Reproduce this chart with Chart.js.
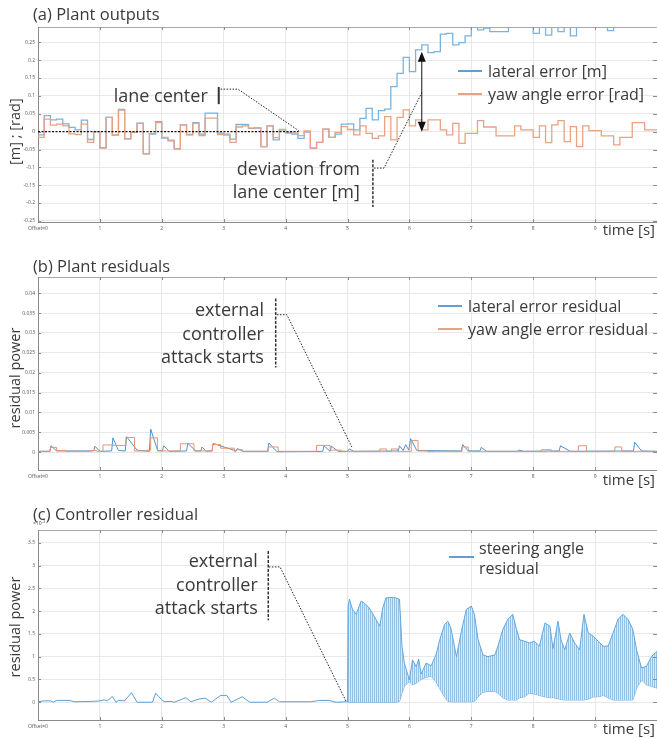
<!DOCTYPE html>
<html>
<head>
<meta charset="utf-8">
<script src="https://cdn.jsdelivr.net/npm/chart.js@4.4.1/dist/chart.umd.min.js"></script>
<style>
  html, body { margin: 0; padding: 0; background: #fff; }
  #wrap { position: relative; width: 657px; height: 738px; overflow: hidden; }
  canvas { position: absolute; left: 0; }
</style>
</head>
<body>
<div id="wrap">
  <canvas id="chartA" width="657" height="245" style="top:0"></canvas>
  <canvas id="chartB" width="657" height="250" style="top:245px"></canvas>
  <canvas id="chartC" width="657" height="243" style="top:495px"></canvas>
</div>
<script>
// ---- data ----
const dt = 0.1; // sample period of plant outputs [s]
const timeTicks = [0, 1, 2, 3, 4, 5, 6, 7, 8, 9];

const lateralError = [
  -0.009, 0.045, 0.033, 0.035, 0.022, 0.012, 0.005, 0.032, -0.022, 0.0,
  -0.045, 0.04, -0.01, 0.062, -0.02, -0.002, 0.024, -0.062, -0.007, 0.028,
  -0.018, -0.026, -0.048, 0.019, -0.008, 0.025, -0.007, 0.052, 0.052, -0.004,
  -0.007, -0.021, 0.02, 0.02, 0.009, 0.01, -0.042, 0.016, -0.023, 0.005,
  -0.002, -0.007, -0.019, -0.001, -0.046, -0.03, 0.007, -0.016, -0.007, 0.021,
  0.022, 0.005, 0.037, 0.065, 0.033, 0.059, 0.063, 0.126, 0.163, 0.208,
  0.168, 0.229, 0.243, 0.221, 0.224, 0.273, 0.275, 0.243, 0.249, 0.268,
  0.30, 0.285, 0.29, 0.28, 0.28, 0.28, 0.30, 0.30, 0.30, 0.30,
  0.275, 0.30, 0.27, 0.30, 0.28, 0.30, 0.268, 0.30, 0.30, 0.30,
  0.30, 0.30, 0.283, 0.30, 0.30, 0.30, 0.30, 0.30, 0.30, 0.30
];
const yawError = [
  -0.016, 0.035, 0.018, 0.021, 0.016, -0.006, -0.008, 0.021, -0.03, 0.0,
  -0.046, 0.04, -0.01, 0.06, -0.02, -0.002, 0.023, -0.062, -0.005, 0.025,
  -0.016, -0.024, -0.048, 0.019, -0.009, 0.023, -0.011, 0.038, 0.038, -0.008,
  -0.01, -0.03, 0.013, 0.016, 0.01, 0.011, -0.042, 0.016, -0.017, 0.006,
  -0.004, -0.004, -0.011, 0.002, -0.046, -0.03, 0.007, -0.016, -0.002, 0.014,
  0.006, -0.009, 0.016, -0.005, -0.019, -0.012, 0.042, -0.023, 0.04, 0.061,
  0.016, 0.033, 0.005, 0.033, 0.033, 0.005, -0.009, 0.023, -0.033, -0.005,
  -0.005, 0.031, 0.013, 0.013, -0.012, -0.012, -0.012, 0.016, 0.005, 0.005,
  -0.016, 0.016, -0.031, 0.019, 0.031, -0.028, 0.014, -0.042, 0.016, 0.003,
  0.003, -0.012, -0.012, -0.037, -0.016, -0.016, 0.025, 0.025, 0.005, 0.005
];
const yTicksA = [-0.25, -0.2, -0.15, -0.1, -0.05, 0, 0.05, 0.1, 0.15, 0.2, 0.25];

const latResT = [0, 0.19, 0.21, 0.3, 0.9, 0.92, 1.0, 1.19, 1.21, 1.3, 1.41, 1.43, 1.6, 1.8, 1.82, 1.93, 2.01, 2.03, 2.12, 2.4,
  2.42, 2.55, 2.63, 2.65, 2.72, 2.81, 2.83, 3.2, 3.22, 3.32, 3.71, 3.73, 3.86, 4.6, 4.62, 4.72, 4.74, 4.85, 5.0, 5.03,
  5.1, 5.82, 5.84, 5.9, 5.94, 5.99, 6.02, 6.12, 6.84, 6.86, 6.95, 7.14, 7.16, 7.25, 7.74, 7.77, 7.85, 8.42, 8.44, 8.6,
  9.62, 9.64, 9.75, 10];
const latResV = [0.0002, 0.0002, 0.0016, 0.0003, 0.0003, 0.0015, 0.0002, 0.0003, 0.0036, 0.0004, 0.0003, 0.0039, 0.0005, 0.0002, 0.0058, 0.0005, 0.0003, 0.0016, 0.0002, 0.0003,
  0.0022, 0.0003, 0.0003, 0.0013, 0.0002, 0.0003, 0.0022, 0.0003, 0.0009, 0.0002, 0.0002, 0.0023, 0.0001, 0.0002, 0.0016, 0.0002, 0.0015, 0.0002, 0.0002, 0.0008,
  0.0002, 0.0003, 0.0016, 0.0004, 0.0019, 0.0005, 0.0034, 0.0004, 0.0003, 0.0019, 0.0003, 0.0003, 0.0012, 0.0002, 0.0002, 0.0005, 0.0002, 0.0003, 0.0016, 0.0002,
  0.0003, 0.0025, 0.0003, 0.0002];
const yawResT = [0, 0.2, 0.3, 0.45, 0.85, 0.95, 1.05, 1.22, 1.42, 1.56, 1.75, 1.82, 1.93, 2.3, 2.52, 2.82, 2.95, 3.17, 3.2, 3.3,
  3.72, 3.88, 4.5, 4.72, 4.9, 5.52, 5.63, 5.71, 5.81, 6.03, 6.14, 6.3, 6.4, 6.85, 6.95, 8.13, 8.29, 8.73, 8.86, 9.32, 9.43, 10];
const yawResV = [0.0002, 0.0012, 0.0004, 0.0002, 0.0004, 0.0002, 0.0018, 0.0017, 0.0037, 0.0003, 0.0005, 0.0036, 0.0003, 0.0021, 0.0003, 0.0019, 0.001, 0.0002, 0.0006, 0.0002,
  0.0013, 0.0002, 0.0017, 0.0005, 0.0002, 0.0008, 0.0002, 0.0008, 0.0002, 0.0029, 0.0003, 0.0001, 0.0002, 0.0013, 0.0002, 0.0006, 0.0002, 0.0016, 0.0002, 0.0013, 0.0002, 0.0002];
const yTicksB = [0, 0.005, 0.01, 0.015, 0.02, 0.025, 0.03, 0.035, 0.04];

// steering angle residual before the attack
const steerT = [0, 0.1, 0.2, 0.25, 0.3, 0.5, 0.6, 0.9, 1.0, 1.07, 1.12, 1.2, 1.26, 1.3, 1.4, 1.51, 1.6, 1.85, 1.9, 2.0,
  2.05, 2.15, 2.2, 2.39, 2.47, 2.6, 2.7, 2.8, 2.95, 3.05, 3.12, 3.3, 3.42, 3.7, 3.82, 3.9, 4.4, 4.55, 4.7, 4.8, 5.0];
const steerV = [0.01, 0.03, 0.03, 0.0, 0.04, 0.04, 0.01, 0.02, 0.03, 0.05, 0.03, 0.125, 0.0, 0.04, 0.03, 0.21, 0.0, 0.0, 0.2, 0.05,
  0.01, 0.02, 0.0, 0.1, 0.01, 0.07, 0.09, 0.0, 0.15, 0.15, 0.0, 0.12, 0.0, 0.0, 0.09, 0.01, 0.01, 0.04, 0.04, 0.0, 0.01];
// oscillation envelope after the attack (x1e-3)
const envT = [5.0, 5.01, 5.03, 5.08, 5.14, 5.22, 5.27, 5.35, 5.43, 5.52, 5.57, 5.62, 5.7, 5.78, 5.84, 5.88, 5.92, 6.0, 6.05, 6.11,
  6.15, 6.19, 6.27, 6.35, 6.43, 6.49, 6.57, 6.62, 6.67, 6.76, 6.84, 6.92, 7.0, 7.05, 7.11, 7.19, 7.27, 7.38, 7.43, 7.51,
  7.59, 7.67, 7.73, 7.78, 7.86, 7.94, 8.02, 8.1, 8.19, 8.27, 8.32, 8.4, 8.45, 8.51, 8.59, 8.67, 8.75, 8.82, 8.89, 8.97,
  9.05, 9.13, 9.21, 9.29, 9.37, 9.45, 9.53, 9.61, 9.67, 9.75, 9.83, 9.91, 10.0];
const envHigh = [0.01, 2.1, 2.26, 2.04, 1.93, 2.22, 2.18, 2.07, 1.89, 1.67, 2.07, 2.29, 2.3, 2.29, 2.26, 1.23, 0.85, 0.49, 0.93, 0.78,
  0.95, 0.62, 0.86, 0.8, 1.04, 1.37, 1.71, 1.78, 1.63, 1.0, 1.56, 2.04, 2.11, 1.93, 1.37, 1.04, 1.0, 1.04, 1.23, 1.6,
  1.82, 1.93, 1.6, 1.37, 1.34, 1.3, 1.34, 1.23, 1.74, 1.67, 1.18, 1.78, 1.37, 1.15, 1.52, 1.3, 1.15, 1.93, 1.52, 1.45,
  1.34, 1.23, 1.23, 1.52, 1.82, 1.93, 1.82, 1.6, 1.15, 0.75, 0.79, 1.0, 1.12];
const envLow = [0.01, 0, 0, 0, 0, 0, 0, 0, 0, 0, 0, 0, 0, 0, 0.02, 0.2, 0.35, 0.46, 0.38, 0.42,
  0.46, 0.5, 0.55, 0.57, 0.45, 0.3, 0.12, 0.02, 0.01, 0.01, 0.01, 0.01, 0.01, 0.02, 0.12, 0.22, 0.24, 0.24, 0.2, 0.1,
  0.05, 0.05, 0.05, 0.1, 0.12, 0.2, 0.18, 0.15, 0.12, 0.1, 0.1, 0.08, 0.06, 0.05, 0.05, 0.05, 0.05, 0.05, 0.07, 0.12,
  0.12, 0.15, 0.1, 0.05, 0.05, 0.05, 0.05, 0.05, 0.31, 0.49, 0.38, 0.35, 0.31];
const yTicksC = [0, 0.5, 1, 1.5, 2, 2.5, 3, 3.5];

// ---- helpers ----
const INK = '#3a3a3a';
const FONT = '"Open Sans", "Noto Sans", sans-serif';
const GRID = '#e8e8e8';
const AXIS = '#8a8a8a';
const NOTE = 18;   // annotation text size
const LEG = 16;    // legend text size

const zip = (ts, vs) => ts.map((t, i) => ({ x: t, y: vs[i] }));
const sampled = vs => vs.map((v, i) => ({ x: +(i * dt).toFixed(2), y: v })).concat([{ x: vs.length * dt, y: vs[vs.length - 1] }]);
const fmt = v => String(+v.toFixed(4));

function stripes() {
  const c = document.createElement('canvas');
  c.width = 2; c.height = 1;
  const g = c.getContext('2d');
  g.fillStyle = '#d8eaf7'; g.fillRect(0, 0, 2, 1);
  g.fillStyle = '#93c1e6'; g.fillRect(0, 0, 1, 1);
  return g.createPattern(c, 'repeat');
}

function text(ctx, s, x, y, size, align) {
  ctx.save();
  ctx.font = size + 'px ' + FONT;
  ctx.fillStyle = INK;
  ctx.textAlign = align || 'left';
  ctx.textBaseline = 'middle';
  ctx.fillText(s, x, y);
  ctx.restore();
}

function vtext(ctx, s, x, y, size) {
  ctx.save();
  ctx.translate(x, y);
  ctx.rotate(-Math.PI / 2);
  text(ctx, s, 0, 0, size, 'center');
  ctx.restore();
}

function path(ctx, pts, dash, width, color) {
  ctx.save();
  ctx.strokeStyle = color || '#222';
  ctx.lineWidth = width || 1;
  ctx.setLineDash(dash || []);
  ctx.beginPath();
  pts.forEach((p, i) => i ? ctx.lineTo(p[0], p[1]) : ctx.moveTo(p[0], p[1]));
  ctx.stroke();
  ctx.restore();
}

function arrow(ctx, x, y1, y2) {
  path(ctx, [[x, y1 + 6], [x, y2 - 6]], null, 1, '#111');
  ctx.save();
  ctx.fillStyle = '#111';
  ctx.beginPath();
  ctx.moveTo(x, y1); ctx.lineTo(x - 4, y1 + 10); ctx.lineTo(x + 4, y1 + 10); ctx.closePath();
  ctx.moveTo(x, y2); ctx.lineTo(x - 4, y2 - 10); ctx.lineTo(x + 4, y2 - 10); ctx.closePath();
  ctx.fill();
  ctx.restore();
}

function legend(ctx, x, y, color, label) {
  path(ctx, [[x, y], [x + 24, y]], null, 1.6, color);
  text(ctx, label, x + 30, y + 1, LEG);
}

// frame: top border, inner tick marks on all sides
function frame(chart) {
  const { ctx, chartArea: a, scales } = chart;
  path(ctx, [[a.left, a.top + 0.5], [a.right, a.top + 0.5]], null, 1, '#a8a8a8');
  scales.y.ticks.forEach(t => {
    const py = Math.round(scales.y.getPixelForValue(t.value)) + 0.5;
    path(ctx, [[a.left, py], [a.left + 3, py]], null, 1, AXIS);
    path(ctx, [[a.right - 4, py], [a.right, py]], null, 1, AXIS);
  });
  scales.x.ticks.forEach(t => {
    const px = Math.round(scales.x.getPixelForValue(t.value)) + 0.5;
    path(ctx, [[px, a.top], [px, a.top + 3]], null, 1, AXIS);
    path(ctx, [[px, a.bottom - 3], [px, a.bottom]], null, 1, AXIS);
  });
}

function scales(yMin, yMax, yTicks, axisH) {
  const tickFont = { size: 5, family: FONT };
  return {
    x: {
      type: 'linear', min: 0, max: 10,
      afterBuildTicks: s => { s.ticks = timeTicks.map(v => ({ value: v })); },
      afterFit: s => { s.height = axisH; },
      ticks: { font: tickFont, color: '#555', padding: 4, maxRotation: 0, autoSkip: false,
        callback: v => v === 0 ? 'Offset=0' : String(v) },
      grid: { color: GRID, drawTicks: false },
      border: { color: AXIS }
    },
    y: {
      type: 'linear', min: yMin, max: yMax,
      afterBuildTicks: s => { s.ticks = yTicks.map(v => ({ value: v })); },
      afterFit: s => { s.width = 38; },
      ticks: { font: tickFont, color: '#555', padding: 3, callback: v => fmt(v) },
      grid: { color: GRID, drawTicks: false },
      border: { color: AXIS }
    }
  };
}

function makeChart(id, datasets, sc, padTop, deco) {
  return new Chart(document.getElementById(id), {
    type: 'line',
    data: { datasets },
    options: {
      responsive: false, animation: false, devicePixelRatio: 1, events: [],
      layout: { padding: { top: padTop, left: 0, right: 0, bottom: 0 } },
      elements: { point: { radius: 0 }, line: { tension: 0 } },
      plugins: { legend: { display: false }, tooltip: { enabled: false } },
      scales: sc
    },
    plugins: [{ id: 'deco' + id, afterDatasetsDraw: chart => { frame(chart); deco(chart); } }]
  });
}

// ---- (a) Plant outputs ----
makeChart('chartA', [
  { data: sampled(yawError), stepped: true, borderColor: '#eaa283', borderWidth: 1.3, fill: false },
  { data: sampled(lateralError), stepped: true, borderColor: '#7ab3de', borderWidth: 1.3, fill: false }
], scales(-0.253, 0.293, yTicksA, 23), 27, chart => {
  const { ctx } = chart;
  const X = v => chart.scales.x.getPixelForValue(v);
  const Y = v => chart.scales.y.getPixelForValue(v);
  text(ctx, '(a) Plant outputs', 33, 15, 16.5);
  vtext(ctx, '[m] ; [rad]', 16, Y(0), 14.5);
  text(ctx, 'time [s]', 655, 231, 15, 'right');
  legend(ctx, 458, 71, '#3a86c8', 'lateral error [m]');
  legend(ctx, 458, 94, '#dc8c66', 'yaw angle error [rad]');
  // lane center
  path(ctx, [[X(0), Y(0)], [X(4.21), Y(0)]], [2, 1.5], 1.2, '#111');
  text(ctx, 'lane center', X(2.92) - 11, Y(0.098), NOTE, 'right');
  path(ctx, [[X(2.92), Y(0.125)], [X(2.92), Y(0.077)]], null, 2, '#333');
  path(ctx, [[X(2.95), Y(0.119)], [X(3.23), Y(0.119)], [X(4.21), Y(0.003)]], [1.5, 1.5], 1, '#222');
  // deviation from lane center
  text(ctx, 'deviation from', X(5.2), Y(-0.107), NOTE, 'right');
  text(ctx, 'lane center [m]', X(5.2), Y(-0.172), NOTE, 'right');
  path(ctx, [[X(5.41), Y(-0.079)], [X(5.41), Y(-0.211)]], [3, 1.5], 1.5, '#333');
  path(ctx, [[X(5.43), Y(-0.102)], [X(5.59), Y(-0.102)], [X(6.2), Y(0.109)]], [1.5, 1.5], 1, '#222');
  arrow(ctx, X(6.2), Y(0.224), Y(0.0));
});

// ---- (b) Plant residuals ----
makeChart('chartB', [
  { data: zip(yawResT, yawResV), stepped: true, borderColor: '#e6946e', borderWidth: 1, fill: false },
  { data: zip(latResT, latResV), borderColor: '#4a93d0', borderWidth: 1, fill: false }
], scales(-0.0045, 0.0441, yTicksB, 25), 32, chart => {
  const { ctx } = chart;
  const X = v => chart.scales.x.getPixelForValue(v);
  const Y = v => chart.scales.y.getPixelForValue(v);
  text(ctx, '(b) Plant residuals', 33, 22, 16.5);
  vtext(ctx, 'residual power', 16, 133, 14.5);
  text(ctx, 'time [s]', 655, 236, 15, 'right');
  legend(ctx, 438, 61, '#3a86c8', 'lateral error residual');
  legend(ctx, 438, 84, '#dc8c66', 'yaw angle error residual');
  text(ctx, 'external', X(3.65), Y(0.0355), NOTE, 'right');
  text(ctx, 'controller', X(3.65), Y(0.0296), NOTE, 'right');
  text(ctx, 'attack starts', X(3.65), Y(0.0238), NOTE, 'right');
  path(ctx, [[X(3.84), Y(0.0387)], [X(3.84), Y(0.0213)]], [3, 1.5], 1.5, '#333');
  path(ctx, [[X(3.86), Y(0.0346)], [X(4.02), Y(0.0346)], [X(5.07), Y(0.0013)]], [1.5, 1.5], 1, '#222');
});

// ---- (c) Controller residual ----
makeChart('chartC', [
  { data: zip(steerT, steerV), borderColor: '#5a9fd6', borderWidth: 1, fill: false },
  { data: zip(envT, envHigh), borderColor: '#5a9fd6', borderWidth: 0.9, fill: '+1', backgroundColor: stripes() },
  { data: zip(envT, envLow), borderColor: '#5a9fd6', borderWidth: 0.9, fill: false }
], scales(-0.39, 3.78, yTicksC, 18), 35, chart => {
  const { ctx } = chart;
  const X = v => chart.scales.x.getPixelForValue(v);
  const Y = v => chart.scales.y.getPixelForValue(v);
  text(ctx, '(c) Controller residual', 33, 20, 16.5);
  text(ctx, '\u00d710\u207b\u00b3', 33, 29, 5);
  vtext(ctx, 'residual power', 16, 132, 14.5);
  text(ctx, 'time [s]', 655, 235, 15, 'right');
  path(ctx, [[449, 62], [474, 62]], null, 1.6, '#3a86c8');
  text(ctx, 'steering angle', 479, 54, LEG);
  text(ctx, 'residual', 479, 74, LEG);
  text(ctx, 'external', X(3.55), Y(3.08), NOTE, 'right');
  text(ctx, 'controller', X(3.55), Y(2.55), NOTE, 'right');
  text(ctx, 'attack starts', X(3.55), Y(2.05), NOTE, 'right');
  path(ctx, [[X(3.72), Y(3.32)], [X(3.72), Y(1.80)]], [3, 1.5], 1.5, '#333');
  path(ctx, [[X(3.73), Y(2.97)], [X(3.91), Y(2.97)], [X(4.98), Y(0.013)]], [1.5, 1.5], 1, '#222');
});
</script>
</body>
</html>
